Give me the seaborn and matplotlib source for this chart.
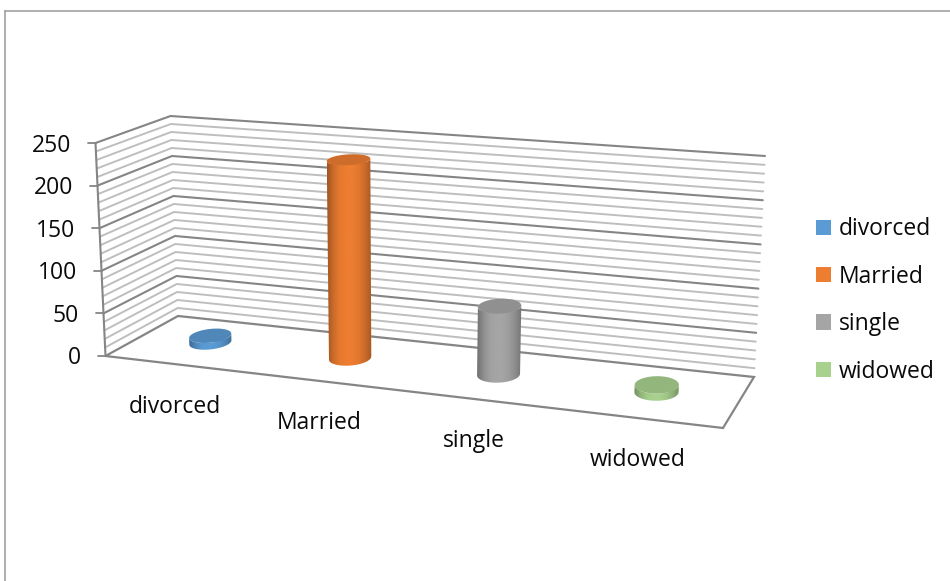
import numpy as np
import pandas as pd
import matplotlib
matplotlib.use("Agg")
import matplotlib.pyplot as plt
import matplotlib.transforms as mtransforms
from matplotlib.colors import LinearSegmentedColormap, to_rgb
from matplotlib.patches import Patch, Polygon
import seaborn as sns

categories = ["divorced", "Married", "single", "widowed"]
counts = [8, 232, 78, 8]
colors = ["#5B9BD5", "#ED7D31", "#A5A5A5", "#A9D18E"]
value_ticks = [0, 50, 100, 150, 200, 250]
minor_step = 10

sns.set_theme(style="white")
plt.rcParams["font.family"] = ["Open Sans", "DejaVu Sans"]

W, H = 950, 581
FONT = 16.5
AXIS_GREY = "#858585"
MINOR_GREY = "#BEBEBE"
TEXT_COLOR = "#0A0A0A"

# Corners of the 3D plot box in pixels, indexed [u][depth][level].
BOX = np.array([
    [[(105.5, 356.0), (95.5, 143.0)], [(178.0, 316.0), (170.5, 116.0)]],
    [[(723.0, 428.0), (735.0, 193.0)], [(754.0, 377.0), (765.0, 156.0)]],
])
VALUE_MAX = value_ticks[-1]
PERSPECTIVE = 1.13
BAR_DEPTH = 0.525
BAR_WIDTH = 0.26
DEPTH_RADIUS = 0.17


def warp(u):
    """Foreshortening along the category direction."""
    return u / (u + PERSPECTIVE * (1 - u))


def box_point(u, d, v):
    """Trilinear position inside the box for unit coordinates."""
    u, d, v = np.broadcast_arrays(u, d, v)
    pts = 0.0
    for i, wu in enumerate((1 - u, u)):
        for j, wd in enumerate((1 - d, d)):
            for k, wv in enumerate((1 - v, v)):
                pts = pts + (wu * wd * wv)[..., None] * BOX[i, j, k]
    return pts


def project(cat, depth, value):
    """Category index, depth and value to pixel position."""
    u = warp((np.asarray(cat, dtype=float) + 0.5) / len(categories))
    return box_point(u, depth, np.asarray(value, dtype=float) / VALUE_MAX)


class BarProjection(mtransforms.Transform):
    input_dims = 2
    output_dims = 2

    def transform_non_affine(self, values):
        values = np.asarray(values, dtype=float)
        return project(values[:, 0], BAR_DEPTH, values[:, 1])


def disc(cat, value, n=181):
    t = np.linspace(0, 2 * np.pi, n)[:-1]
    return project(cat + BAR_WIDTH / 2 * np.cos(t),
                   BAR_DEPTH + DEPTH_RADIUS * np.sin(t), value)


def lower_arc(pts):
    """Part of a closed ellipse below its left and right extremes, left to right."""
    a, b = np.argmin(pts[:, 0]), np.argmax(pts[:, 0])
    pts = np.roll(pts, -a, axis=0)
    b = (b - a) % len(pts)
    first, second = pts[:b + 1], np.vstack([pts[b:], pts[:1]])[::-1]
    return first if first[:, 1].mean() > second[:, 1].mean() else second


fig = plt.figure(figsize=(W / 100, H / 100), dpi=100)
ax = fig.add_axes([0, 0, 1, 1])

data = pd.DataFrame({"category": categories, "count": counts})
sns.barplot(data=data, x="category", y="count", hue="category", order=categories,
            hue_order=categories, palette=colors, width=BAR_WIDTH, dodge=False,
            legend=False, saturation=1, ax=ax, zorder=2)

ax.set_xlim(0, W)
ax.set_ylim(H, 0)
ax.axis("off")

# Outer chart frame
ax.plot([4.5, 4.5], [10.5, H], color="#B0B0B0", lw=1.5, zorder=1)
ax.plot([4.5, W], [10.5, 10.5], color="#9A9A9A", lw=1.1, zorder=1)

# Gridlines on the side and back walls
for level in range(0, VALUE_MAX + 1, minor_step):
    major = level in value_ticks
    v = level / VALUE_MAX
    path = np.array([box_point(0, 0, v), box_point(0, 1, v), box_point(1, 1, v)])
    if level > 0:
        ax.plot(path[:, 0], path[:, 1], color=AXIS_GREY if major else MINOR_GREY,
                lw=1.5 if major else 1.4, zorder=1 if major else 0.9,
                solid_joinstyle="miter")

# Floor outline and the value axis edge
floor = np.array([box_point(0, 0, 0), box_point(1, 0, 0), box_point(1, 1, 0), box_point(0, 1, 0)])
ax.add_patch(Polygon(floor, closed=True, fill=False, ec=AXIS_GREY, lw=1.6, zorder=1.1))
edge = np.array([box_point(0, 0, 0), box_point(0, 0, 1)])
ax.plot(edge[:, 0], edge[:, 1], color=AXIS_GREY, lw=1.5, zorder=1.1)

# Value axis ticks and labels
for level in value_ticks:
    x, y = box_point(0, 0, level / VALUE_MAX)
    ax.plot([x - 8, x], [y, y], color=AXIS_GREY, lw=1.3, zorder=1.1)
    ax.text(x - 24.5, y + 2.5, str(level), ha="right", va="center", fontsize=FONT, color=TEXT_COLOR)

# Category labels under the front floor edge
for i, name in enumerate(categories):
    x, y = project(i, 0, 0)
    ax.text(x, y + 42.5, name, ha="center", va="center", fontsize=FONT, color=TEXT_COLOR)

# Turn each bar into a shaded cylinder in the box projection
shade = [0.68, 0.86, 0.97, 1.0, 1.0, 0.95, 0.85, 0.70]
to_pixels = BarProjection() + ax.transData
for i, (patch, value, color) in enumerate(zip(ax.patches, counts, colors)):
    patch.set_transform(to_pixels)
    patch.set_clip_on(False)
    base = disc(i, 0)
    top = disc(i, value)
    body = np.vstack([lower_arc(base), lower_arc(top)[::-1]])
    rgb = np.array(to_rgb(color))
    cmap = LinearSegmentedColormap.from_list("side", [tuple(rgb * s) for s in shade])
    clip = Polygon(body, closed=True, transform=ax.transData, fc="none", ec="none")
    ax.add_patch(clip)
    im = ax.imshow(np.linspace(0, 1, 128)[None, :], cmap=cmap, aspect="auto", zorder=3,
                   extent=(body[:, 0].min(), body[:, 0].max(), body[:, 1].max(), body[:, 1].min()))
    im.set_clip_path(clip)
    ax.add_patch(Polygon(top, closed=True, fc=tuple(rgb * 0.87), ec="none", zorder=4))

ax.set_xlim(0, W)
ax.set_ylim(H, 0)

handles = [Patch(fc=c, ec="none", label=n) for n, c in zip(categories, colors)]
ax.legend(handles=handles, loc="center left", bbox_to_anchor=(816 / W, 1 - 300.5 / H),
          frameon=False, fontsize=FONT, handlelength=0.66, handleheight=0.66,
          handletextpad=0.32, labelspacing=1.02, labelcolor=TEXT_COLOR, borderpad=0.0,
          borderaxespad=0.0)

fig.savefig("out.png", dpi=100, facecolor="white")
